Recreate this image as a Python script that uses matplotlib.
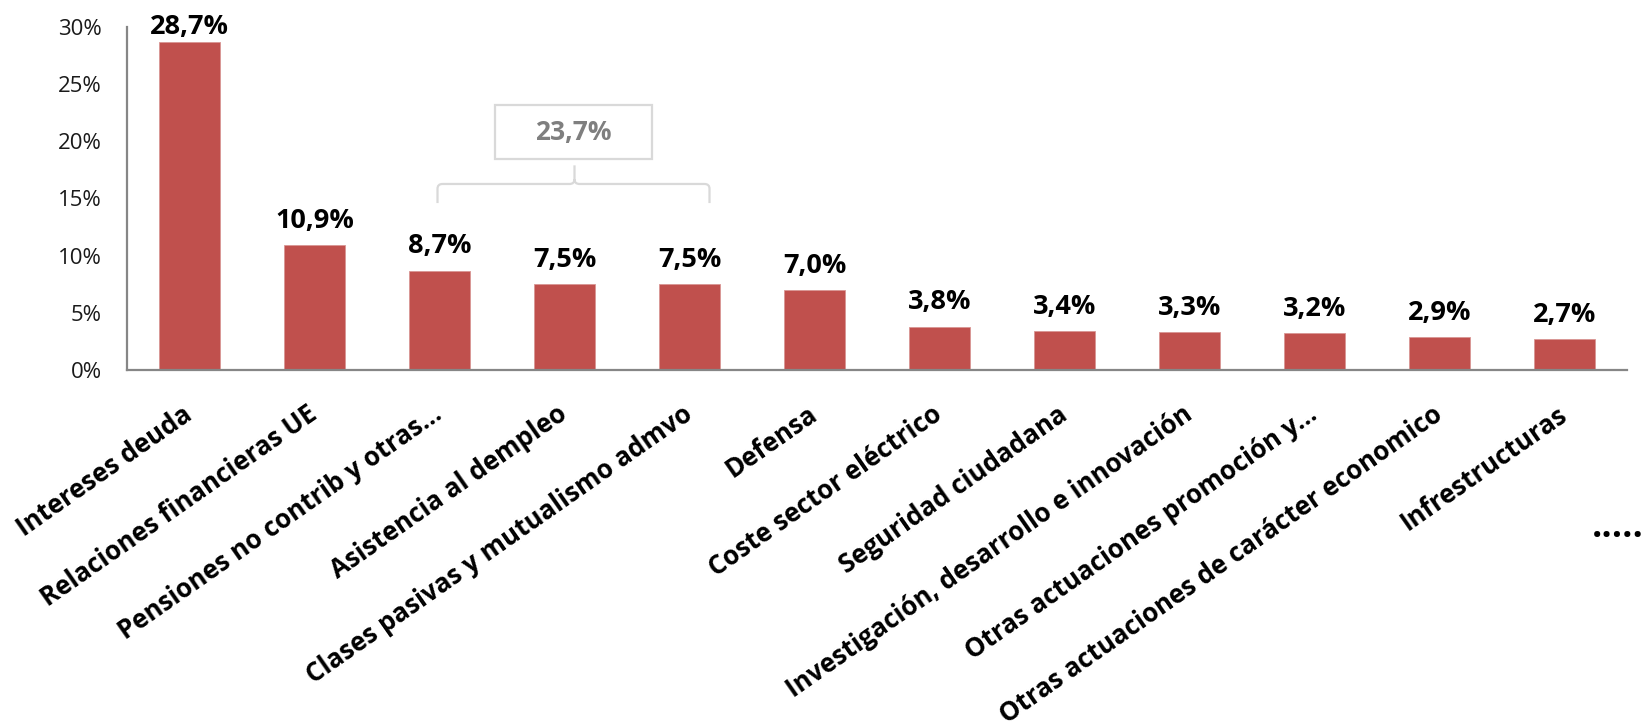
import matplotlib
matplotlib.use("Agg")
import matplotlib.pyplot as plt
from matplotlib.path import Path
from matplotlib.patches import PathPatch, Rectangle
from matplotlib.ticker import FuncFormatter

plt.rcParams['font.family'] = ['Open Sans', 'DejaVu Sans']

# datos del gráfico
categorias = ["Intereses deuda", "Relaciones financieras UE", "Pensiones no contrib y otras...",
              "Asistencia al dempleo", "Clases pasivas y mutualismo admvo", "Defensa",
              "Coste sector eléctrico", "Seguridad ciudadana", "Investigación, desarrollo e innovación",
              "Otras actuaciones promoción y...", "Otras actuaciones de carácter economico", "Infrestructuras"]
valores = [28.7, 10.9, 8.7, 7.5, 7.5, 7.0, 3.8, 3.4, 3.3, 3.2, 2.9, 2.7]
yticks = [0, 5, 10, 15, 20, 25, 30]
suma_grupo = 23.7  # 8,7 + 7,5 + 7,5

rojo = "#C0504D"
gris_eje = "#868686"
gris_llave = "#D9D9D9"

fig = plt.figure(figsize=(16.41, 7.28), dpi=100)
ax = fig.add_axes([127 / 1641, 1 - 370 / 728, 1500 / 1641, 343 / 728])

x = list(range(len(valores)))
barras = ax.bar(x, valores, width=0.49, color=rojo, edgecolor="#D99694", linewidth=0.6, zorder=2)

ax.set_xlim(-0.5, len(valores) - 0.5)
ax.set_ylim(0, 30)
ax.set_yticks(yticks)
ax.yaxis.set_major_formatter(FuncFormatter(lambda v, p: f"{int(v)}%"))

for s in ["top", "right"]:
    ax.spines[s].set_visible(False)
for s in ["left", "bottom"]:
    ax.spines[s].set_color(gris_eje)
    ax.spines[s].set_linewidth(1.6)

ax.tick_params(axis="y", length=0, pad=18, labelsize=16, labelcolor="#1a1a1a")
ax.set_xticks(x)
ax.set_xticklabels(categorias, rotation=35, rotation_mode="anchor", ha="right", va="center",
                   fontsize=18.6, fontweight="bold")
ax.tick_params(axis="x", length=0, pad=30)

# etiquetas de valor
etiquetas = [f"{v:.1f}%".replace(".", ",") for v in valores]
anns = ax.bar_label(barras, labels=etiquetas, padding=8, fontsize=19.5, fontweight="bold")
anns[0].xyann = (0, 1.5)

# llave sobre el grupo de pensiones / desempleo / clases pasivas
x0, x1, xm = 1.984, 4.16, 3.08
yb, yh, yp = 14.6, 16.27, 17.9
dx, dy = 0.04, 0.42
verts = [(x0, yb), (x0, yh - dy), (x0, yh), (x0 + dx, yh), (xm - dx, yh), (xm, yh), (xm, yh + dy), (xm, yp),
         (xm, yh + dy), (xm, yh), (xm + dx, yh), (x1 - dx, yh), (x1, yh), (x1, yh - dy), (x1, yb)]
codes = [Path.MOVETO, Path.LINETO, Path.CURVE3, Path.CURVE3, Path.LINETO, Path.CURVE3, Path.CURVE3, Path.LINETO,
         Path.MOVETO, Path.CURVE3, Path.CURVE3, Path.LINETO, Path.CURVE3, Path.CURVE3, Path.LINETO]
ax.add_patch(PathPatch(Path(verts, codes), facecolor="none", edgecolor=gris_llave, linewidth=1.6,
                       clip_on=False, zorder=3))
ax.add_patch(Rectangle((2.44, 18.46), 1.26, 4.74, facecolor="white", edgecolor=gris_llave,
                       linewidth=1.6, clip_on=False, zorder=3))
ax.text(3.07, 20.8, f"{suma_grupo:.1f}%".replace(".", ","), ha="center", va="center",
        fontsize=19, fontweight="bold", color="#7F7F7F", zorder=4)

# puntos suspensivos
fig.text(1592 / 1641, 1 - 537 / 728, ".....", fontsize=26, fontweight="bold", ha="left", va="baseline")

fig.savefig("out.png", dpi=100)
